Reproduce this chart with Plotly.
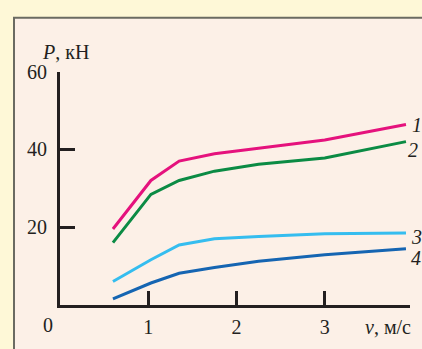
import plotly.graph_objects as go

v = [0.6, 1.03, 1.35, 1.75, 2.25, 3.0, 3.92]
p1 = [19.5, 32.0, 37.0, 38.9, 40.3, 42.4, 46.4]
p2 = [16.0, 28.4, 32.0, 34.4, 36.2, 37.8, 42.0]
p3 = [6.0, 11.6, 15.4, 17.0, 17.6, 18.3, 18.5]
p4 = [1.5, 5.6, 8.1, 9.6, 11.2, 12.9, 14.4]
series = [("1", p1, "#E5127D"), ("2", p2, "#0B8B44"), ("3", p3, "#35BDEF"), ("4", p4, "#1565B2")]

x_ticks = [1, 2, 3, 3.96]
x_ticktext = ["1", "2", "3", ""]
y_ticks = [20, 40, 60]

W, H = 422, 349
FONT = "Liberation Serif"
AX = "#231F20"

fig = go.Figure()
for name, ys, col in series:
    fig.add_trace(go.Scatter(x=v, y=ys, mode="lines", line=dict(color=col, width=3),
                             showlegend=False, hoverinfo="skip"))

# curve labels at right
label_pos = {"1": (417, 118), "2": (413, 144), "3": (416, 233), "4": (416, 255)}
for name, (px, py) in label_pos.items():
    fig.add_annotation(x=px / W, y=1 - py / H, xref="paper", yref="paper", text="<i>%s</i>" % name,
                       showarrow=False, font=dict(family=FONT, size=20, color=AX), xanchor="center", yanchor="middle")

fig.add_annotation(x=65 / W, y=1 - 42 / H, xref="paper", yref="paper", text="<i>P</i>, кН",
                   showarrow=False, font=dict(family=FONT, size=20, color=AX), xanchor="center", yanchor="middle")
fig.add_annotation(x=388 / W, y=1 - 326 / H, xref="paper", yref="paper", text="<i>v</i>, м/с",
                   showarrow=False, font=dict(family=FONT, size=20, color=AX), xanchor="center", yanchor="middle")
fig.add_annotation(x=48 / W, y=1 - 324 / H, xref="paper", yref="paper", text="0",
                   showarrow=False, font=dict(family=FONT, size=20, color=AX), xanchor="center", yanchor="middle")

# panel
fig.add_shape(type="rect", xref="paper", yref="paper", x0=14 / W, x1=1.05, y0=-0.05, y1=1 - 7 / H,
              line=dict(color="#6B6B62", width=2), fillcolor="#FCF0E7", layer="below")

fig.update_layout(
    width=W, height=H, margin=dict(l=0, r=0, t=0, b=0),
    paper_bgcolor="#FEF8D7", plot_bgcolor="rgba(0,0,0,0)",
    font=dict(family=FONT, size=20, color=AX),
    xaxis=dict(domain=[60 / W, 409.5 / W], range=[0, 3.96], showgrid=False, zeroline=False,
               showline=True, linecolor=AX, linewidth=3, ticks="inside", ticklen=14, tickwidth=3,
               tickcolor=AX, tickvals=x_ticks, ticktext=x_ticktext, ticklabelstandoff=2),
    yaxis=dict(domain=[1 - 303.3 / H, 1 - 62.7 / H], range=[0, 60], showgrid=False, zeroline=False,
               showline=True, linecolor=AX, linewidth=3, ticks="inside", ticklen=15, tickwidth=3,
               tickcolor=AX, tickvals=y_ticks, ticklabelstandoff=6),
)
fig.write_html("out.html")
